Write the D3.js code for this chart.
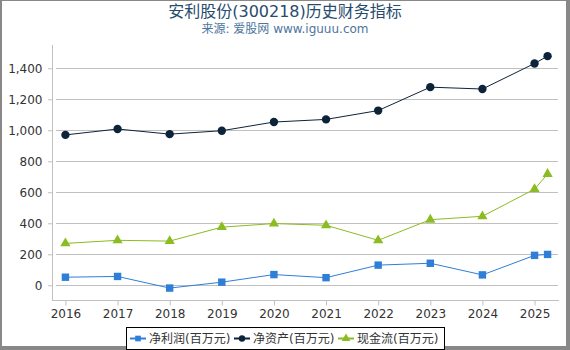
<!DOCTYPE html>
<html>
<head>
<meta charset="utf-8">
<script src="https://cdn.jsdelivr.net/npm/d3@7"></script>
<style>
  body { margin: 0; background: #fff; }
  svg { font-family: "DejaVu Sans", "Noto Sans CJK SC", sans-serif; }
</style>
</head>
<body>
<svg id="chart"></svg>
<script>
// data
var periods = [2016, 2017, 2018, 2019, 2020, 2021, 2022, 2023, 2024, 2025, 2025.25];
var yearTicks = [2016, 2017, 2018, 2019, 2020, 2021, 2022, 2023, 2024, 2025];
var yTicks = [0, 200, 400, 600, 800, 1000, 1200, 1400];
var netProfit = [52, 57, -18, 20, 69, 49, 130, 142, 67, 193, 199];
var netAssets = [970, 1008, 975, 997, 1053, 1070, 1127, 1278, 1266, 1431, 1478];
var cashFlow = [270, 290, 285, 375, 398, 387, 290, 423, 445, 620, 718];
var seriesNames = ["净利润(百万元)", "净资产(百万元)", "现金流(百万元)"];
var seriesColors = ["#2f7ed8", "#0d233a", "#8bbc21"];
var seriesSymbols = [d3.symbolSquare, d3.symbolCircle, d3.symbolTriangle];

var W = 570, H = 350;
var svg = d3.select("#chart").attr("width", W).attr("height", H);

// outer frame
svg.append("rect").attr("x", 0).attr("y", 0).attr("width", W).attr("height", H).attr("fill", "#fff");
svg.append("rect").attr("x", 0.5).attr("y", 0.5).attr("width", 566).attr("height", 346)
  .attr("fill", "none").attr("stroke", "#888").attr("stroke-width", 1);
svg.append("rect").attr("x", 567).attr("y", 0).attr("width", 3).attr("height", H).attr("fill", "#888");
svg.append("rect").attr("x", 0).attr("y", 347).attr("width", W).attr("height", 3).attr("fill", "#888");
svg.append("rect").attr("x", 0).attr("y", 0).attr("width", 2).attr("height", H).attr("fill", "#888");

// titles
svg.append("text").attr("x", 285).attr("y", 17).attr("text-anchor", "middle")
  .attr("fill", "#274b6d").style("font-size", "16px").text("安利股份(300218)历史财务指标");
svg.append("text").attr("x", 285).attr("y", 33).attr("text-anchor", "middle")
  .attr("fill", "#4d759e").style("font-size", "12px").text("来源: 爱股网 www.iguuu.com");

var x = d3.scaleLinear().domain([2015.8, 2025.45]).range([55, 558]);
var y = d3.scaleLinear().domain([-95, 1550]).range([300, 45]);

// grid lines
svg.append("g").selectAll("line").data(yTicks).join("line")
  .attr("x1", 56).attr("x2", 558)
  .attr("y1", function (d) { return Math.round(y(d)) + 0.5; })
  .attr("y2", function (d) { return Math.round(y(d)) + 0.5; })
  .attr("stroke", "#c0c0c0").attr("stroke-width", 1);

// y axis
var yAxis = svg.append("g").attr("transform", "translate(52.5,0)")
  .call(d3.axisLeft(y).tickValues(yTicks).tickSize(4).tickPadding(6).tickFormat(d3.format(",")));
yAxis.select(".domain").attr("stroke", "#c0c0c0").attr("d", "M0,45V300");
yAxis.selectAll(".tick line").attr("stroke", "#c0c0c0").attr("transform", "translate(-0.5,0)");
yAxis.selectAll("text").attr("fill", "#333").style("font-size", "12px").style("font-family", "DejaVu Sans");

// x axis
var xAxis = svg.append("g").attr("transform", "translate(0,300.5)")
  .call(d3.axisBottom(x).tickValues(yearTicks).tickSize(5).tickPadding(4).tickFormat(d3.format("d")));
xAxis.select(".domain").attr("stroke", "#c0c0c0").attr("d", "M52,0H559");
xAxis.selectAll(".tick line").attr("stroke", "#c0c0c0");
xAxis.selectAll("text").attr("fill", "#333").style("font-size", "12px").style("font-family", "DejaVu Sans");

// series
var allSeries = [netProfit, netAssets, cashFlow];
var line = d3.line()
  .x(function (d, i) { return x(periods[i]); })
  .y(function (d) { return y(d); });

allSeries.forEach(function (vals, s) {
  svg.append("path").datum(vals).attr("d", line)
    .attr("fill", "none").attr("stroke", seriesColors[s]).attr("stroke-width", 1);
  svg.append("g").selectAll("path").data(vals).join("path")
    .attr("transform", function (d, i) { return "translate(" + x(periods[i]) + "," + y(d) + ")"; })
    .attr("d", d3.symbol().type(seriesSymbols[s]).size(s === 2 ? 45 : 55))
    .attr("fill", seriesColors[s]);
});

// legend
var legend = svg.append("g");
legend.append("rect").attr("x", 126.5).attr("y", 327.5).attr("width", 318).attr("height", 22)
  .attr("fill", "#fff").attr("stroke", "#000").attr("stroke-width", 1);
var legendX = [130, 234, 338];
seriesNames.forEach(function (name, s) {
  var lx = legendX[s];
  legend.append("line").attr("x1", lx).attr("x2", lx + 16).attr("y1", 338.5).attr("y2", 338.5)
    .attr("stroke", seriesColors[s]).attr("stroke-width", 2);
  legend.append("path").attr("transform", "translate(" + (lx + 8) + ",338.5)")
    .attr("d", d3.symbol().type(seriesSymbols[s]).size(32)).attr("fill", seriesColors[s]);
  legend.append("text").attr("x", lx + 19).attr("y", 343).attr("fill", "#333")
    .style("font-size", "12px").text(name);
});
</script>
</body>
</html>
